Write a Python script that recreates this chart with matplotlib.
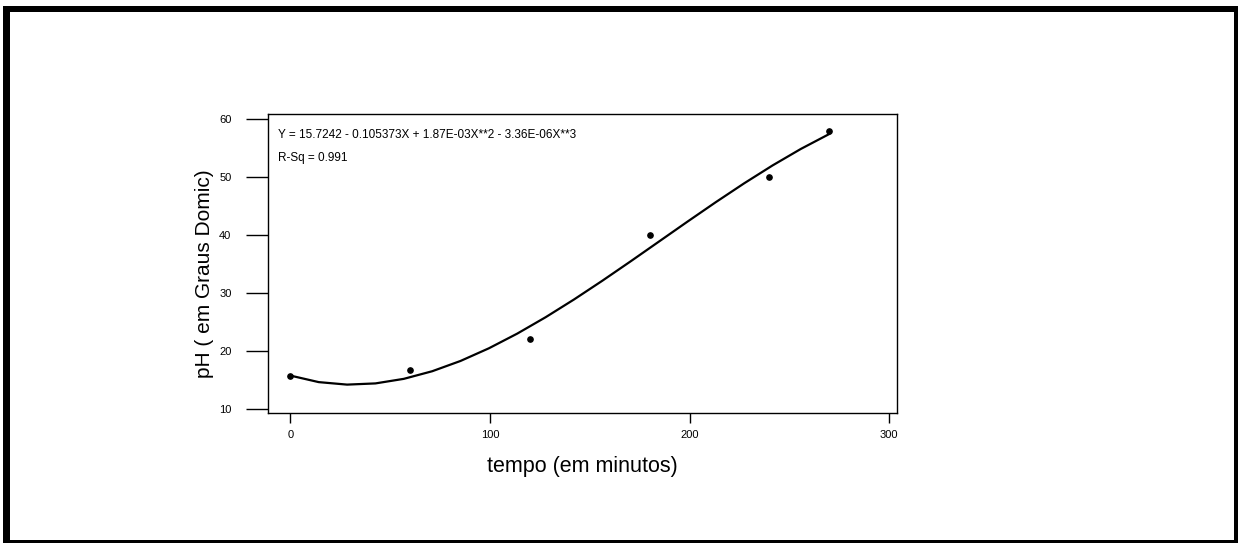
import numpy as np
import matplotlib.pyplot as plt
from matplotlib.patches import Rectangle

# dados observados (tempo em minutos, pH em graus Dornic)
tempo = [0, 60, 120, 180, 240, 270]
ph = [15.6, 16.7, 22.0, 40.1, 50.0, 57.9]

# coeficientes do ajuste cubico (como impresso no grafico)
coef = [15.7242, -0.105373, 1.87e-03, -3.36e-06]
r_sq = 0.991

xticks = [0, 100, 200, 300]
yticks = [10, 20, 30, 40, 50, 60]

plt.rcParams['font.family'] = ['Liberation Sans', 'DejaVu Sans']

W, H = 1238, 543
fig = plt.figure(figsize=(W / 100, H / 100), dpi=100)

def px(x0, y0, x1, y1):
  # caixa em pixels (origem em cima) -> fracao da figura
  return [x0 / W, 1 - y1 / H, (x1 - x0) / W, (y1 - y0) / H]

# moldura grossa em volta da figura
for box in [(3, 6, 10, 543), (3, 6, 1238, 12), (1234, 6, 1238, 543), (3, 540, 1238, 543)]:
  r = px(*box)
  fig.add_artist(Rectangle((r[0], r[1]), r[2], r[3], transform=fig.transFigure,
                           facecolor='black', edgecolor='none'))

ax = fig.add_axes(px(268, 114.3, 897.3, 412.7))

xs = np.linspace(0, 270, 20)
ys = coef[0] + coef[1] * xs + coef[2] * xs**2 + coef[3] * xs**3
ax.plot(xs, ys, color='black', lw=1.6)
ax.plot(tempo, ph, 'o', color='black', ms=3.8)

ax.set_xlim(-11.2, 304.1)
ax.set_ylim(9.31, 60.87)
ax.set_xticks(xticks)
ax.set_yticks(yticks)
ax.tick_params(axis='y', length=15.8, width=1, pad=10.5, labelsize=8)
ax.tick_params(axis='x', length=7.2, width=1, pad=5, labelsize=8)
for s in ax.spines.values():
  s.set_linewidth(1)

ax.set_xlabel('tempo (em minutos)', fontsize=15.5, labelpad=12)
ax.set_ylabel('pH ( em Graus Domic)', fontsize=15, labelpad=4)
ax.yaxis.label.set_y(0.466)

ax.text(0.016, 0.93, 'Y = 15.7242 - 0.105373X + 1.87E-03X**2 - 3.36E-06X**3',
        transform=ax.transAxes, fontsize=8.5, va='center')
ax.text(0.016, 0.852, 'R-Sq = %.3f' % r_sq, transform=ax.transAxes, fontsize=8.5, va='center')

fig.savefig('out.png', dpi=100)
